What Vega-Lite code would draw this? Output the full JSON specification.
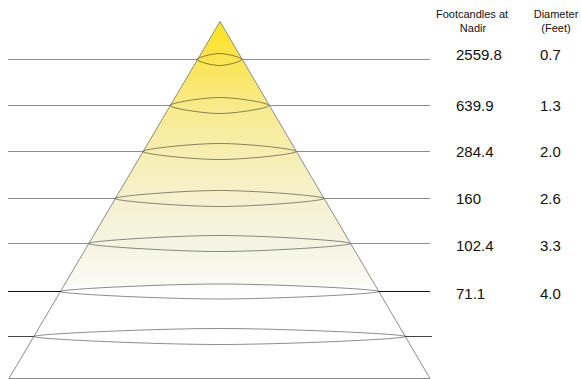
{
  "$schema": "https://vega.github.io/schema/vega-lite/v6.json",
  "width": 581,
  "height": 379,
  "padding": 0,
  "autosize": {"type": "none"},
  "config": {"view": {"stroke": null}, "font": "Liberation Sans"},
  "datasets": {
    "segments": [
      {"ring": 1, "y": 59.5, "xa": 8, "xb": 197.3},
      {"ring": 1, "y": 59.5, "xa": 241.7, "xb": 430},
      {"ring": 2, "y": 105.5, "xa": 8, "xb": 170.1},
      {"ring": 2, "y": 105.5, "xa": 268.9, "xb": 430},
      {"ring": 3, "y": 151.5, "xa": 8, "xb": 142.9},
      {"ring": 3, "y": 151.5, "xa": 296.1, "xb": 430},
      {"ring": 4, "y": 198.5, "xa": 8, "xb": 115.2},
      {"ring": 4, "y": 198.5, "xa": 323.8, "xb": 430},
      {"ring": 5, "y": 243.5, "xa": 8, "xb": 88.6},
      {"ring": 5, "y": 243.5, "xa": 350.4, "xb": 430},
      {"ring": 6, "y": 291.5, "xa": 8, "xb": 60.4},
      {"ring": 6, "y": 291.5, "xa": 378.6, "xb": 430},
      {"ring": 7, "y": 336.5, "xa": 8, "xb": 33.8},
      {"ring": 7, "y": 336.5, "xa": 405.2, "xb": 432}
    ],
    "cone": [
      {"x": 9, "top": 378.5, "base": 378.5},
      {"x": 220, "top": 21.5, "base": 378.5},
      {"x": 430, "top": 378.5, "base": 378.5}
    ],
    "ellipses": [
      {"ring": 1, "k": 0, "x": 197.3, "y": 59.5},
      {"ring": 1, "k": 1, "x": 219.5, "y": 53.5},
      {"ring": 1, "k": 2, "x": 241.7, "y": 59.5},
      {"ring": 1, "k": 3, "x": 219.5, "y": 65.5},
      {"ring": 2, "k": 0, "x": 170.1, "y": 105.5},
      {"ring": 2, "k": 1, "x": 219.5, "y": 97.5},
      {"ring": 2, "k": 2, "x": 268.9, "y": 105.5},
      {"ring": 2, "k": 3, "x": 219.5, "y": 113.5},
      {"ring": 3, "k": 0, "x": 142.9, "y": 151.5},
      {"ring": 3, "k": 1, "x": 219.5, "y": 143.5},
      {"ring": 3, "k": 2, "x": 296.1, "y": 151.5},
      {"ring": 3, "k": 3, "x": 219.5, "y": 159.5},
      {"ring": 4, "k": 0, "x": 115.2, "y": 198.5},
      {"ring": 4, "k": 1, "x": 219.5, "y": 190.5},
      {"ring": 4, "k": 2, "x": 323.8, "y": 198.5},
      {"ring": 4, "k": 3, "x": 219.5, "y": 206.5},
      {"ring": 5, "k": 0, "x": 88.6, "y": 243.5},
      {"ring": 5, "k": 1, "x": 219.5, "y": 235.5},
      {"ring": 5, "k": 2, "x": 350.4, "y": 243.5},
      {"ring": 5, "k": 3, "x": 219.5, "y": 251.5},
      {"ring": 6, "k": 0, "x": 60.4, "y": 291.5},
      {"ring": 6, "k": 1, "x": 219.5, "y": 284.0},
      {"ring": 6, "k": 2, "x": 378.6, "y": 291.5},
      {"ring": 6, "k": 3, "x": 219.5, "y": 299.0},
      {"ring": 7, "k": 0, "x": 33.8, "y": 336.5},
      {"ring": 7, "k": 1, "x": 219.5, "y": 328.5},
      {"ring": 7, "k": 2, "x": 405.2, "y": 336.5},
      {"ring": 7, "k": 3, "x": 219.5, "y": 344.5}
    ],
    "table": [
      {"fc": "2559.8", "dia": "0.7", "y": 54.5},
      {"fc": "639.9", "dia": "1.3", "y": 105.5},
      {"fc": "284.4", "dia": "2.0", "y": 151.5},
      {"fc": "160", "dia": "2.6", "y": 198.5},
      {"fc": "102.4", "dia": "3.3", "y": 246},
      {"fc": "71.1", "dia": "4.0", "y": 294}
    ],
    "headers": [
      {"t": "Footcandles at", "x": 472, "y": 18},
      {"t": "Nadir", "x": 473, "y": 32},
      {"t": "Diameter", "x": 556, "y": 18},
      {"t": "(Feet)", "x": 556, "y": 32}
    ]
  },
  "layer": [
    {
      "data": {"name": "cone"},
      "mark": {
        "type": "area",
        "stroke": "#8c8c8c",
        "strokeWidth": 1,
        "opacity": 1,
        "fillOpacity": 1,
        "fill": {
          "gradient": "linear",
          "x1": 0, "y1": 0, "x2": 0, "y2": 1,
          "stops": [
            {"offset": 0, "color": "#fee21c"},
            {"offset": 0.1, "color": "#fbe450"},
            {"offset": 0.23, "color": "#f9ea88"},
            {"offset": 0.36, "color": "#f7eeb0"},
            {"offset": 0.5, "color": "#f5f1cf"},
            {"offset": 0.62, "color": "#f5f4e2"},
            {"offset": 0.71, "color": "#f9f9f0"},
            {"offset": 0.76, "color": "#ffffff"},
            {"offset": 1, "color": "#ffffff"}
          ]
        }
      },
      "encoding": {
        "x": {"field": "x", "type": "quantitative", "scale": {"domain": [0, 581], "nice": false, "zero": false}, "axis": null},
        "y": {"field": "top", "type": "quantitative", "scale": {"domain": [0, 379], "reverse": true, "nice": false, "zero": false}, "axis": null},
        "y2": {"field": "base"}
      }
    },
    {
      "data": {"name": "segments"},
      "mark": {"type": "rule", "strokeWidth": 1},
      "encoding": {
        "x": {"field": "xa", "type": "quantitative", "scale": {"domain": [0, 581], "nice": false, "zero": false}, "axis": null},
        "x2": {"field": "xb"},
        "y": {"field": "y", "type": "quantitative", "scale": {"domain": [0, 379], "reverse": true, "nice": false, "zero": false}, "axis": null},
        "color": {"field": "ring", "type": "ordinal", "legend": null, "scale": {"domain": [1, 2, 3, 4, 5, 6, 7], "range": ["#8c8c8c", "#8c8c8c", "#8c8c8c", "#8c8c8c", "#8c8c8c", "#111111", "#444444"]}}
      }
    },
    {
      "data": {"name": "ellipses"},
      "mark": {"type": "line", "interpolate": "cardinal-closed", "tension": 0, "stroke": "#000000", "strokeOpacity": 0.45, "strokeWidth": 1},
      "encoding": {
        "x": {"field": "x", "type": "quantitative", "scale": {"domain": [0, 581], "nice": false, "zero": false}, "axis": null},
        "y": {"field": "y", "type": "quantitative", "scale": {"domain": [0, 379], "reverse": true, "nice": false, "zero": false}, "axis": null},
        "detail": {"field": "ring", "type": "nominal"},
        "order": {"field": "k", "type": "quantitative"}
      }
    },
    {
      "data": {"name": "table"},
      "mark": {"type": "text", "align": "left", "baseline": "middle", "fontSize": 15, "color": "#111111"},
      "encoding": {
        "x": {"datum": 456, "type": "quantitative", "scale": {"domain": [0, 581], "nice": false, "zero": false}, "axis": null},
        "y": {"field": "y", "type": "quantitative", "scale": {"domain": [0, 379], "reverse": true, "nice": false, "zero": false}, "axis": null},
        "text": {"field": "fc"}
      }
    },
    {
      "data": {"name": "table"},
      "mark": {"type": "text", "align": "left", "baseline": "middle", "fontSize": 15, "color": "#111111"},
      "encoding": {
        "x": {"datum": 540, "type": "quantitative", "scale": {"domain": [0, 581], "nice": false, "zero": false}, "axis": null},
        "y": {"field": "y", "type": "quantitative", "scale": {"domain": [0, 379], "reverse": true, "nice": false, "zero": false}, "axis": null},
        "text": {"field": "dia"}
      }
    },
    {
      "data": {"name": "headers"},
      "mark": {"type": "text", "align": "center", "baseline": "alphabetic", "fontSize": 11, "color": "#111111"},
      "encoding": {
        "x": {"field": "x", "type": "quantitative", "scale": {"domain": [0, 581], "nice": false, "zero": false}, "axis": null},
        "y": {"field": "y", "type": "quantitative", "scale": {"domain": [0, 379], "reverse": true, "nice": false, "zero": false}, "axis": null},
        "text": {"field": "t"}
      }
    }
  ]
}
